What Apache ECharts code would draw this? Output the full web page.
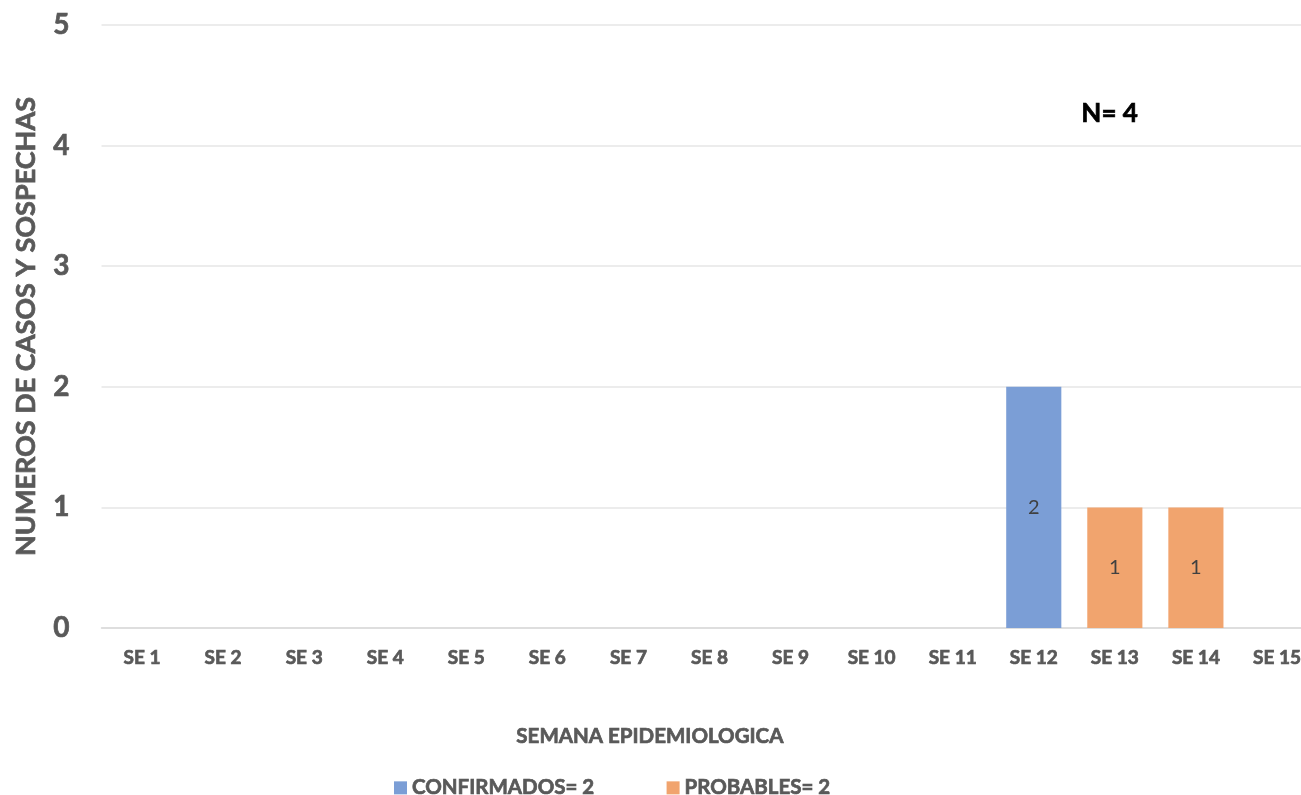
<!DOCTYPE html>
<html>
<head>
<meta charset="utf-8">
<script src="https://cdn.jsdelivr.net/npm/echarts@6/dist/echarts.min.js"></script>
<style>
html,body{margin:0;padding:0;background:#fff;}
#chart{width:1301px;height:795px;}
</style>
</head>
<body>
<div id="chart"></div>
<script>
const categories = ['SE 1','SE 2','SE 3','SE 4','SE 5','SE 6','SE 7','SE 8','SE 9','SE 10','SE 11','SE 12','SE 13','SE 14','SE 15'];
const confirmados = [0,0,0,0,0,0,0,0,0,0,0,2,0,0,0];
const probables = [0,0,0,0,0,0,0,0,0,0,0,0,1,1,0];
const seriesNames = ['CONFIRMADOS= 2','PROBABLES= 2'];
const yTicks = [0,1,2,3,4,5];
const totalLabel = 'N= 4';

const FONT = 'Lato, "Open Sans", sans-serif';
const GRAY = '#595959';
const thick = (c) => ({ textBorderColor: c, textBorderWidth: 0.7 });
const chart = echarts.init(document.getElementById('chart'));
const lbl = {
  show: true, position: 'inside', color: '#404040', fontSize: 20, fontFamily: FONT,
  formatter: p => p.value ? String(p.value) : ''
};
chart.setOption({
  animation: false,
  backgroundColor: '#fff',
  grid: { left: 101.5, top: 25, width: 1216, height: 603, outerBoundsMode: 'none', containLabel: false },
  legend: {
    data: seriesNames,
    left: 389, top: 772,
    itemWidth: 13, itemHeight: 13, itemGap: 72,
    icon: 'rect',
    textStyle: Object.assign({ fontSize: 20.5, fontWeight: 'bold', color: GRAY, fontFamily: FONT }, thick(GRAY))
  },
  graphic: [
    { type: 'text', left: 1081, top: 100, style: { text: totalLabel, fontSize: 26, fontWeight: 'bold', fill: '#000', fontFamily: FONT, stroke: '#000', lineWidth: 0.7 } },
    { type: 'text', left: 516, top: 726, style: { text: 'SEMANA EPIDEMIOLOGICA', fontSize: 20.5, fontWeight: 'bold', fill: GRAY, fontFamily: FONT, stroke: GRAY, lineWidth: 0.7 } }
  ],
  xAxis: {
    type: 'category',
    data: categories,
    axisLine: { lineStyle: { color: '#d9d9d9', width: 1.5 } },
    axisTick: { show: false },
    axisLabel: Object.assign({ fontSize: 19, fontWeight: 'bold', color: GRAY, fontFamily: FONT, margin: 20 }, thick(GRAY))
  },
  yAxis: {
    type: 'value',
    min: yTicks[0], max: yTicks[yTicks.length-1], interval: 1,
    name: 'NUMEROS DE CASOS Y SOSPECHAS',
    nameLocation: 'middle', nameGap: 62, nameRotate: 90,
    nameTextStyle: Object.assign({ fontSize: 27, fontWeight: 'bold', color: GRAY, fontFamily: FONT }, thick(GRAY)),
    axisLine: { show: false },
    axisTick: { show: false },
    axisLabel: Object.assign({ fontSize: 28, fontWeight: 'bold', color: GRAY, fontFamily: FONT, margin: 32 }, thick(GRAY)),
    splitLine: { lineStyle: { color: '#e6e6e6', width: 1.5 } }
  },
  series: [
    { name: seriesNames[0], type: 'bar', stack: 'total', barWidth: '68%', data: confirmados,
      itemStyle: { color: '#7B9ED6' }, label: lbl },
    { name: seriesNames[1], type: 'bar', stack: 'total', barWidth: '68%', data: probables,
      itemStyle: { color: '#F1A46E' }, label: lbl }
  ]
});
</script>
</body>
</html>
